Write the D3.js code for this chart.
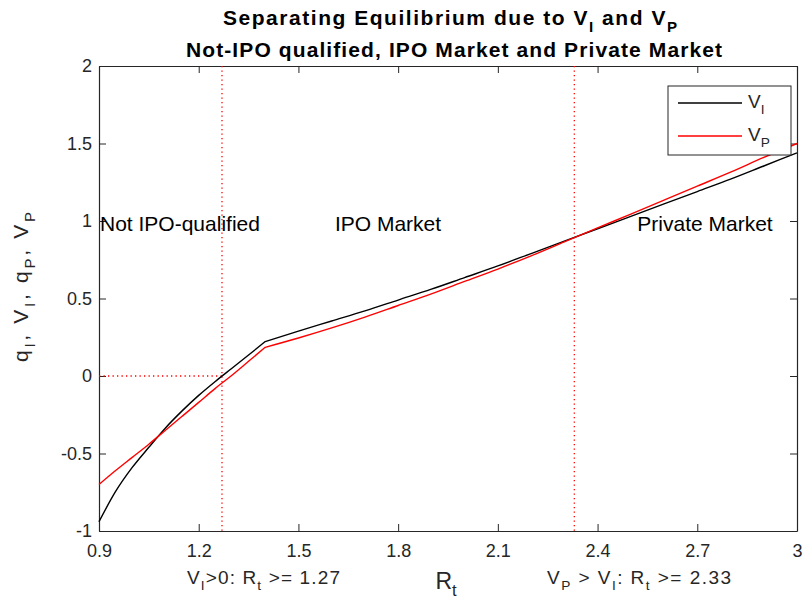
<!DOCTYPE html>
<html>
<head>
<meta charset="utf-8">
<script src="https://cdn.jsdelivr.net/npm/d3@7/dist/d3.min.js"></script>
<style>
  html, body { margin: 0; padding: 0; background: #fff; }
  svg { display: block; font-family: "Liberation Sans", Arial, Helvetica, sans-serif; }
</style>
</head>
<body>
<svg id="chart" width="803" height="599"></svg>
<script>
// Return rate grid R_t and the two value functions
const rGrid = [0.9, 0.95, 1.0, 1.05, 1.1, 1.15, 1.2, 1.25, 1.3, 1.35, 1.4,
               1.5, 1.6, 1.7, 1.8, 1.9, 2.0, 2.1, 2.2, 2.3, 2.4, 2.5, 2.6, 2.7, 2.8, 2.9, 3.0];
const vI = [-0.94, -0.745, -0.59, -0.46, -0.335, -0.225, -0.125, -0.035, 0.05, 0.135, 0.222,
            0.29, 0.355, 0.42, 0.49, 0.56, 0.635, 0.71, 0.79, 0.87, 0.95, 1.03, 1.11, 1.19, 1.27, 1.355, 1.44];
const vP = [-0.70, -0.61, -0.525, -0.44, -0.35, -0.26, -0.17, -0.08, 0.005, 0.095, 0.185,
            0.245, 0.31, 0.38, 0.455, 0.53, 0.61, 0.69, 0.775, 0.865, 0.955, 1.045, 1.135, 1.225, 1.315, 1.41, 1.50];
// R_t where both curves change regime
const kinkR = 1.4;

// Thresholds
const thrIPO = 1.27;
const thrPrivate = 2.33;

// Axis ticks
const xTicks = [0.9, 1.2, 1.5, 1.8, 2.1, 2.4, 2.7, 3.0];
const xTickLabels = ["0.9", "1.2", "1.5", "1.8", "2.1", "2.4", "2.7", "3"];
const yTicks = [-1, -0.5, 0, 0.5, 1, 1.5, 2];
const yTickLabels = ["-1", "-0.5", "0", "0.5", "1", "1.5", "2"];

const svg = d3.select("#chart");
const L = 99, R = 797, T = 66, B = 531;
const axisColor = "#262626";

const x = d3.scaleLinear().domain([0.9, 3]).range([L, R]);
const y = d3.scaleLinear().domain([-1, 2]).range([B, T]);

// Axes with inward ticks on all four sides
const tickLen = 7;
const fmtX = d => xTickLabels[xTicks.indexOf(d)];
const fmtY = d => yTickLabels[yTicks.indexOf(d)];

const gx = svg.append("g").attr("transform", `translate(0,${B})`)
  .call(d3.axisBottom(x).tickValues(xTicks).tickFormat(fmtX).tickSizeInner(-tickLen).tickSizeOuter(0).tickPadding(13));
const gxTop = svg.append("g").attr("transform", `translate(0,${T})`)
  .call(d3.axisTop(x).tickValues(xTicks).tickFormat("").tickSizeInner(-tickLen).tickSizeOuter(0));
const gy = svg.append("g").attr("transform", `translate(${L},0)`)
  .call(d3.axisLeft(y).tickValues(yTicks).tickFormat(fmtY).tickSizeInner(-tickLen).tickSizeOuter(0).tickPadding(7));
const gyR = svg.append("g").attr("transform", `translate(${R},0)`)
  .call(d3.axisRight(y).tickValues(yTicks).tickFormat("").tickSizeInner(-tickLen).tickSizeOuter(0));

[gx, gxTop, gy, gyR].forEach(g => {
  g.select(".domain").attr("stroke", axisColor).attr("stroke-width", 1.2);
  g.selectAll(".tick line").attr("stroke", axisColor).attr("stroke-width", 1);
  g.selectAll(".tick text").attr("fill", axisColor).attr("font-size", 18)
    .attr("font-family", "'Liberation Sans', Arial, sans-serif");
});

// Threshold guides
const guide = svg.append("g").attr("stroke", "#ff0000").attr("stroke-width", 1.3)
  .attr("stroke-dasharray", "1.3,3.2").attr("fill", "none");
guide.append("line").attr("x1", x(thrIPO)).attr("x2", x(thrIPO)).attr("y1", y(2)).attr("y2", y(-1));
guide.append("line").attr("x1", x(thrPrivate)).attr("x2", x(thrPrivate)).attr("y1", y(2)).attr("y2", y(-1));
guide.append("line").attr("x1", x(0.9)).attr("x2", x(thrIPO)).attr("y1", y(0)).attr("y2", y(0));

// Value curves: smooth within each regime, sharp corner at the regime switch
const smooth = d3.line().x(d => x(d[0])).y(d => y(d[1])).curve(d3.curveMonotoneX);
function regimePath(values) {
  const pts = rGrid.map((r, i) => [r, values[i]]);
  const left = pts.filter(p => p[0] <= kinkR);
  const right = pts.filter(p => p[0] >= kinkR);
  return smooth(left) + smooth(right).replace(/^M/, "L");
}
svg.append("path").attr("d", regimePath(vI))
  .attr("fill", "none").attr("stroke", "#000").attr("stroke-width", 1.4).attr("stroke-linejoin", "round");
svg.append("path").attr("d", regimePath(vP))
  .attr("fill", "none").attr("stroke", "#ff0000").attr("stroke-width", 1.4).attr("stroke-linejoin", "round");

// Text with subscripts: parts = [[text, isSub], ...]
function richText(g, parts, size, subScale = 0.72) {
  const t = g.append("text").attr("font-size", size);
  parts.forEach(([s, sub], i) => {
    const sp = t.append("tspan").text(s);
    const prevSub = i > 0 && parts[i - 1][1];
    if (sub && !prevSub) sp.attr("font-size", size * subScale).attr("dy", size * 0.32);
    else if (!sub && prevSub) sp.attr("dy", -size * 0.32);
  });
  return t;
}
// Stretch a text element to a given drawn width
function fitWidth(t, w) {
  t.attr("textLength", w).attr("lengthAdjust", "spacing");
  return t;
}

// Region labels
const regionFont = 21;
svg.append("text").attr("x", 100).attr("y", 231)
  .attr("font-size", regionFont).attr("fill", "#000").text("Not IPO-qualified");
svg.append("text").attr("x", 388).attr("y", 231).attr("text-anchor", "middle")
  .attr("font-size", regionFont).attr("fill", "#000").text("IPO Market");
svg.append("text").attr("x", 705).attr("y", 231).attr("text-anchor", "middle")
  .attr("font-size", regionFont).attr("fill", "#000").text("Private Market");

// Title
const title = svg.append("g").attr("font-weight", "bold").attr("fill", "#000");
fitWidth(richText(title, [["Separating Equilibrium due to V", false], ["I", true], [" and V", false], ["P", true]], 21), 454)
  .attr("x", 223).attr("y", 25);
fitWidth(title.append("text").attr("x", 186).attr("y", 57)
  .attr("font-size", 21).text("Not-IPO qualified, IPO Market and Private Market"), 536);

// Axis labels
const xl = svg.append("g").attr("fill", axisColor);
richText(xl, [["R", false], ["t", true]], 23).attr("x", 446).attr("y", 589).attr("text-anchor", "middle");
fitWidth(richText(xl, [["V", false], ["I", true], [">0: R", false], ["t", true], [" >= 1.27", false]], 19), 153)
  .attr("x", 187).attr("y", 584);
fitWidth(richText(xl, [["V", false], ["P", true], [" > V", false], ["I", true], [": R", false], ["t", true], [" >= 2.33", false]], 19), 184)
  .attr("x", 547).attr("y", 584);

const yl = svg.append("g").attr("fill", axisColor).attr("transform", "translate(28,0) rotate(-90)");
fitWidth(richText(yl, [["q", false], ["I", true], [", V", false], ["I", true], [", q", false], ["P", true], [", V", false], ["P", true]], 21), 150)
  .attr("x", -362).attr("y", 0);

// Legend
const lg = svg.append("g");
lg.append("rect").attr("x", 668).attr("y", 86).attr("width", 123).attr("height", 69)
  .attr("fill", "#fff").attr("stroke", axisColor).attr("stroke-width", 1);
lg.append("line").attr("x1", 678).attr("x2", 742).attr("y1", 103).attr("y2", 103).attr("stroke", "#000").attr("stroke-width", 1.4);
lg.append("line").attr("x1", 678).attr("x2", 742).attr("y1", 136).attr("y2", 136).attr("stroke", "#ff0000").attr("stroke-width", 1.4);
richText(lg, [["V", false], ["I", true]], 19).attr("x", 748).attr("y", 108).attr("fill", axisColor);
richText(lg, [["V", false], ["P", true]], 19).attr("x", 748).attr("y", 141).attr("fill", axisColor);
</script>
</body>
</html>
